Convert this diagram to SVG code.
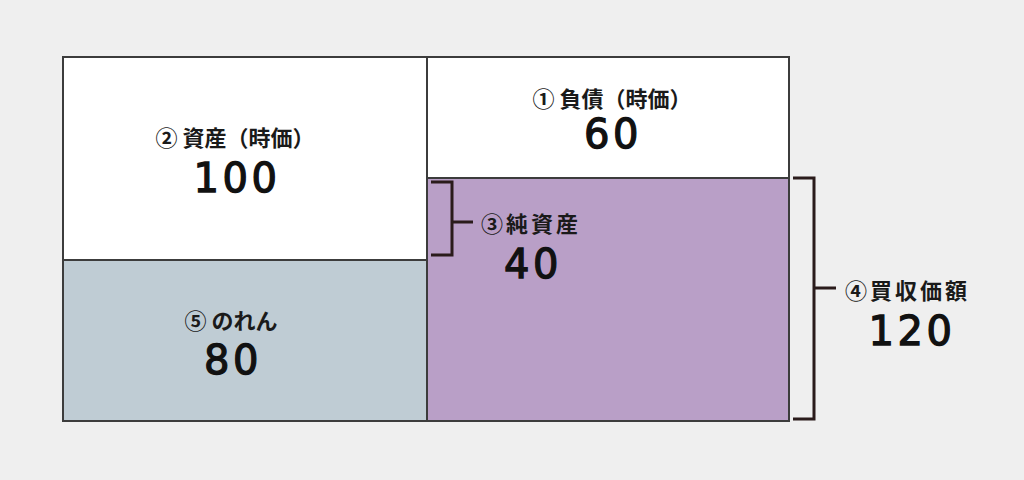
<svg xmlns="http://www.w3.org/2000/svg" width="1024" height="480" viewBox="0 0 1024 480">
<style>
.box{stroke:#3c3c3c;stroke-width:2}
.lbl{font-family:"Noto Sans CJK JP","Noto Sans",sans-serif;font-weight:bold;font-size:22px;fill:#1a1a1a}
.num{font-family:"DejaVu Sans","Liberation Sans",sans-serif;font-size:40px;fill:#111;stroke:#111;stroke-width:1.3;letter-spacing:3.5px}
.br{fill:none;stroke:#2a1b1b;stroke-width:3}
</style>
<rect width="1024" height="480" fill="#efefef"/>
<g id="assets">
<rect class="box" x="63" y="57" width="364" height="203" fill="#ffffff"/>
<text class="lbl" x="235" y="146" text-anchor="middle">② 資産（時価）</text>
<text class="num" x="237" y="192" text-anchor="middle">100</text>
</g>
<g id="goodwill">
<rect class="box" x="63" y="260" width="364" height="161" fill="#bfccd4"/>
<text class="lbl" x="231" y="329" text-anchor="middle">⑤ のれん</text>
<text class="num" x="233" y="374" text-anchor="middle">80</text>
</g>
<g id="liabilities">
<rect class="box" x="427" y="57" width="362" height="121" fill="#ffffff"/>
<text class="lbl" x="612" y="107" text-anchor="middle">① 負債（時価）</text>
<text class="num" x="613" y="148" text-anchor="middle">60</text>
</g>
<g id="netassets">
<rect class="box" x="427" y="178" width="362" height="243" fill="#b99fc7"/>
<text class="lbl" x="481" y="232" letter-spacing="3">③純資産</text>
<text class="num" x="533" y="278" text-anchor="middle">40</text>
</g>
<g id="price">
<text class="lbl" x="845" y="299" letter-spacing="3">④買収価額</text>
<text class="num" x="912" y="345" text-anchor="middle">120</text>
</g>
<g id="connectors">
<path class="br" d="M431,182 H452 V255 H431 M452,222 H473"/>
<path class="br" d="M793,178 H814 V419 H793 M814,288 H836"/>
</g>
</svg>
